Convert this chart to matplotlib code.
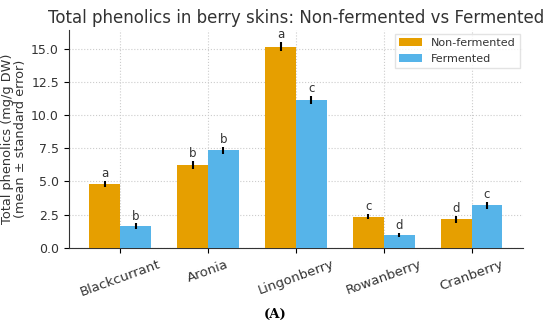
import numpy as np
import matplotlib
matplotlib.use("Agg")
import matplotlib.pyplot as plt

# --- data ---
BERRIES = ["Blackcurrant", "Aronia", "Lingonberry", "Rowanberry", "Cranberry"]
NON_FERMENTED = [4.8, 6.25, 15.15, 2.35, 2.15]
FERMENTED = [1.65, 7.35, 11.15, 1.0, 3.2]
NF_ERR = [0.25, 0.3, 0.35, 0.2, 0.25]
F_ERR = [0.2, 0.25, 0.3, 0.15, 0.25]
NF_LETTERS = ["a", "b", "a", "c", "d"]
F_LETTERS = ["b", "b", "c", "d", "c"]

C_NF = "#E69F00"
C_F = "#56B4E9"
TXT = "#333333"

fig = plt.figure(figsize=(5.5, 3.24), dpi=100)
ax = fig.add_axes([0.125, 0.235, 0.826, 0.672])

x = np.arange(len(BERRIES))
w = 0.35
err_kw = dict(ecolor="black", elinewidth=1.5, capsize=0)
ax.bar(x - w/2, NON_FERMENTED, w, yerr=NF_ERR, color=C_NF, label="Non-fermented",
       error_kw=err_kw, zorder=3)
ax.bar(x + w/2, FERMENTED, w, yerr=F_ERR, color=C_F, label="Fermented",
       error_kw=err_kw, zorder=3)

for xi, v, e, t in zip(x - w/2, NON_FERMENTED, NF_ERR, NF_LETTERS):
    ax.text(xi, v + e + 0.05, t, ha="center", va="bottom", fontsize=8.5, color=TXT)
for xi, v, e, t in zip(x + w/2, FERMENTED, F_ERR, F_LETTERS):
    ax.text(xi, v + e + 0.05, t, ha="center", va="bottom", fontsize=8.5, color=TXT)

ax.set_xticks(x)
ax.set_xticklabels(BERRIES, rotation=20, fontsize=9.5, color=TXT)
ax.set_ylim(0, 16.4)
ax.set_yticks([0, 2.5, 5.0, 7.5, 10.0, 12.5, 15.0])
ax.set_yticklabels(["0.0", "2.5", "5.0", "7.5", "10.0", "12.5", "15.0"])
ax.tick_params(axis="y", labelsize=9, labelcolor=TXT)
ax.set_ylabel("Total phenolics (mg/g DW)\n(mean ± standard error)", fontsize=9.3,
              color=TXT, linespacing=1.0, labelpad=3)
ax.set_title("Total phenolics in berry skins: Non-fermented vs Fermented",
             fontsize=12, color=TXT, pad=5)

ax.grid(True, linestyle=":", color="#cccccc", linewidth=0.8, zorder=0)
ax.spines["top"].set_visible(False)
ax.spines["right"].set_visible(False)
ax.spines["left"].set_color(TXT)
ax.spines["bottom"].set_color(TXT)

leg = ax.legend(loc="upper right", fontsize=8, frameon=True, fancybox=False,
                edgecolor="#dddddd", bbox_to_anchor=(1.005, 1.01))
for txt in leg.get_texts():
    txt.set_color(TXT)

fig.text(0.5, 0.03, "(A)", ha="center", va="center", fontsize=9.5,
         fontweight="bold", family="DejaVu Serif")

fig.savefig("out.png", dpi=100)
